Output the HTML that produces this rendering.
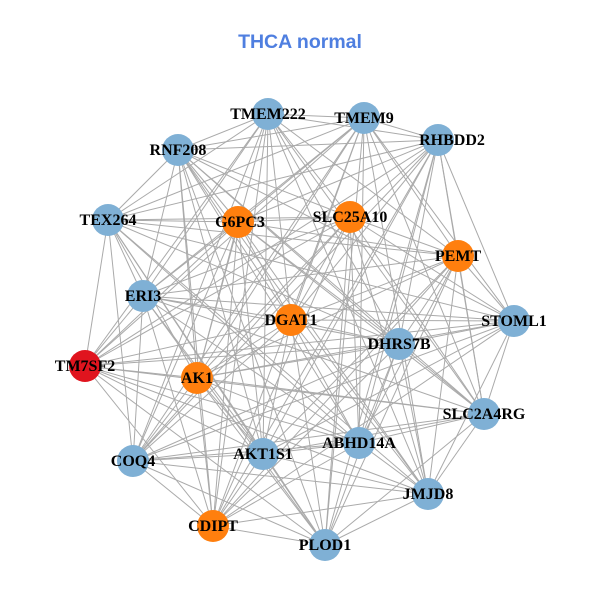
<!DOCTYPE html>
<html><head><meta charset="utf-8"><style>
html,body{margin:0;padding:0;background:#fff;}
svg{display:block;}
text{font-family:"Liberation Serif",serif;font-weight:bold;font-size:16px;fill:#000;}
</style></head><body>
<svg id="s" width="600" height="600" viewBox="0 0 600 600">
<rect width="600" height="600" fill="#fff"/>
<g id="edges" stroke="#aaaaaa" stroke-width="1"></g>
<g id="nodes"></g>
<text x="300" y="48" text-anchor="middle" style="font-family:'Liberation Sans',sans-serif;font-size:19.5px;fill:#4f7fe0;font-weight:bold">THCA normal</text>
<g text-anchor="middle">
<text x="268" y="119">TMEM222</text>
<text x="364" y="123">TMEM9</text>
<text x="178" y="155">RNF208</text>
<text x="452" y="145">RHBDD2</text>
<text x="108" y="225">TEX264</text>
<text x="240" y="227">G6PC3</text>
<text x="350" y="222">SLC25A10</text>
<text x="458" y="261">PEMT</text>
<text x="143" y="301">ERI3</text>
<text x="291" y="325">DGAT1</text>
<text x="514" y="326">STOML1</text>
<text x="399" y="349">DHRS7B</text>
<text x="85" y="371">TM7SF2</text>
<text x="197" y="383">AK1</text>
<text x="484" y="419">SLC2A4RG</text>
<text x="359" y="448">ABHD14A</text>
<text x="263" y="459">AKT1S1</text>
<text x="133" y="466">COQ4</text>
<text x="428" y="499">JMJD8</text>
<text x="213" y="531">CDIPT</text>
<text x="325" y="550">PLOD1</text>
</g>
</svg>
<script>
var N=[[268,114,0],[364,118,0],[178,150,0],[438,140,0],[108,220,0],[238,222,1],[350,217,1],[458,256,1],[143,296,0],[291,320,1],[514,321,0],[399,344,0],[85,366,2],[197,378,1],[484,414,0],[359,443,0],[263,454,0],[133,461,0],[428,494,0],[213,526,1],[325,545,0]];
var C=["#7fb0d5","#ff7f0e","#e0141e"];
var ns="http://www.w3.org/2000/svg";
var E=document.getElementById("edges"),G=document.getElementById("nodes");
for(var i=0;i<N.length;i++)for(var j=i+1;j<N.length;j++){
 if((i*7+j*13)%5===0)continue;
 var l=document.createElementNS(ns,"line");
 l.setAttribute("x1",N[i][0]);l.setAttribute("y1",N[i][1]);
 l.setAttribute("x2",N[j][0]);l.setAttribute("y2",N[j][1]);
 E.appendChild(l);
}
N.forEach(function(n){
 var c=document.createElementNS(ns,"circle");
 c.setAttribute("cx",n[0]);c.setAttribute("cy",n[1]);c.setAttribute("r",16);
 c.setAttribute("fill",C[n[2]]);G.appendChild(c);
});
</script>
</body></html>
